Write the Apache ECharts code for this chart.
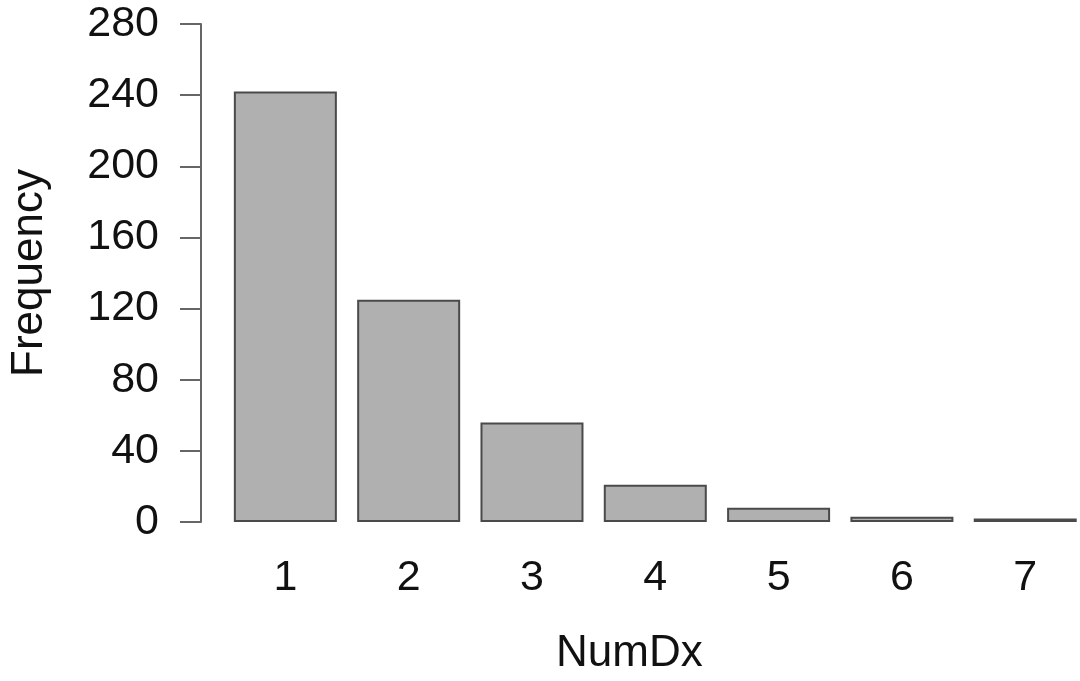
<!DOCTYPE html>
<html>
<head>
<meta charset="utf-8">
<script src="https://cdn.jsdelivr.net/npm/echarts@6/dist/echarts.min.js"></script>
<style>html,body{margin:0;padding:0;background:#fff;}#c{width:1080px;height:681px;}</style>
</head>
<body>
<div id="c"></div>
<script>
const categories = [1, 2, 3, 4, 5, 6, 7];
const frequency = [242, 125, 56, 21, 8, 3, 2];
const yTicks = [0, 40, 80, 120, 160, 200, 240, 280];
const xTitle = 'NumDx';
const yTitle = 'Frequency';

const gridLeft = 221.7, slotPx = 123.6, width = 1080;
const chart = echarts.init(document.getElementById('c'), null, {renderer: 'canvas'});
const font = '"Liberation Sans", Arial, Helvetica, sans-serif';
chart.setOption({
  animation: false,
  backgroundColor: '#ffffff',
  grid: {left: gridLeft, top: 24, right: 0, bottom: 156, containLabel: false},
  xAxis: {
    type: 'value',
    min: 0.5,
    max: 0.5 + (width - gridLeft) / slotPx,
    splitLine: {show: false},
    axisLine: {show: false},
    axisTick: {show: false},
    axisLabel: {fontFamily: font, fontSize: 43, color: '#111', margin: 35,
                customValues: categories},
    name: xTitle,
    nameLocation: 'middle',
    nameGap: 110,
    nameTextStyle: {fontFamily: font, fontSize: 44, color: '#111', padding: [0, 45, 0, 0]}
  },
  yAxis: {
    type: 'value',
    min: yTicks[0],
    max: yTicks[yTicks.length - 1],
    interval: yTicks[1] - yTicks[0],
    offset: 22.7,
    splitLine: {show: false},
    axisLine: {show: true, lineStyle: {color: '#666', width: 2}},
    axisTick: {show: true, inside: false, length: 21, lineStyle: {color: '#666', width: 2}},
    axisLabel: {fontFamily: font, fontSize: 43, color: '#111', margin: 42},
    name: yTitle,
    nameLocation: 'middle',
    nameRotate: 90,
    nameGap: 149,
    nameTextStyle: {fontFamily: font, fontSize: 44, color: '#111'}
  },
  series: [{
    type: 'bar',
    data: categories.map((c, i) => [c, frequency[i]]),
    barWidth: 103,
    itemStyle: {color: '#b0b0b0', borderColor: '#4a4a4a', borderWidth: 2}
  }]
});
</script>
</body>
</html>
